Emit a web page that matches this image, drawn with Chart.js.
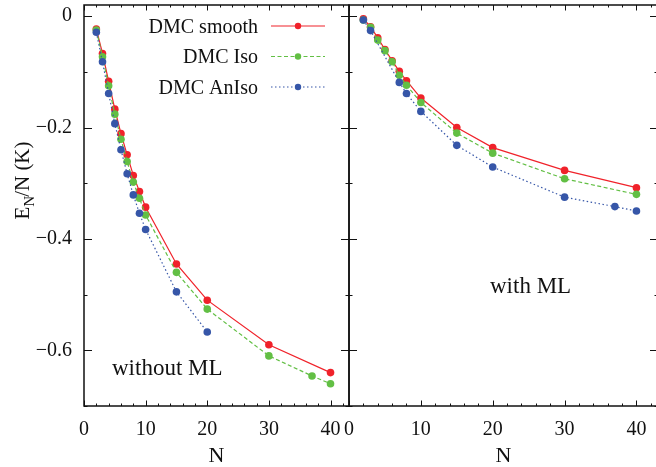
<!DOCTYPE html>
<html>
<head>
<meta charset="utf-8">
<script src="https://cdn.jsdelivr.net/npm/chart.js@4/dist/chart.umd.min.js"></script>
<style>
  html, body { margin: 0; padding: 0; background: #fff; width: 656px; height: 467px; overflow: hidden; }
  canvas { position: absolute; left: 0; top: 0; }
</style>
</head>
<body>
<canvas id="leftPanel" width="656" height="467"></canvas>
<canvas id="rightPanel" width="662" height="467"></canvas>
<script>
// Axis ticks
const xTicks = [0, 10, 20, 30, 40];
const yTicks = [0, -0.2, -0.4, -0.6];

// Series names
const seriesNames = ['DMC smooth', 'DMC Iso', 'DMC AnIso'];

// Panel: without ML
const nLeftSmooth = [2, 3, 4, 5, 6, 7, 8, 9, 10, 15, 20, 30, 40];
const eLeftSmooth = [-0.023, -0.067, -0.117, -0.167, -0.211, -0.249, -0.286, -0.315, -0.343, -0.445, -0.510, -0.590, -0.640];
const nLeftIso = [2, 3, 4, 5, 6, 7, 8, 9, 10, 15, 20, 30, 37, 40];
const eLeftIso = [-0.025, -0.073, -0.125, -0.176, -0.221, -0.261, -0.298, -0.327, -0.357, -0.460, -0.526, -0.610, -0.646, -0.660];
const nLeftAniso = [2, 3, 4, 5, 6, 7, 8, 9, 10, 15, 20];
const eLeftAniso = [-0.029, -0.082, -0.139, -0.193, -0.240, -0.283, -0.321, -0.354, -0.383, -0.495, -0.567];

// Panel: with ML
const nRightSmooth = [2, 3, 4, 5, 6, 7, 8, 10, 15, 20, 30, 40];
const eRightSmooth = [-0.005, -0.019, -0.039, -0.060, -0.080, -0.099, -0.116, -0.147, -0.200, -0.236, -0.277, -0.308];
const nRightIso = [2, 3, 4, 5, 6, 7, 8, 10, 15, 20, 30, 40];
const eRightIso = [-0.007, -0.020, -0.043, -0.062, -0.082, -0.106, -0.124, -0.155, -0.210, -0.246, -0.292, -0.320];
const nRightAniso = [2, 3, 7, 8, 10, 15, 20, 30, 37, 40];
const eRightAniso = [-0.007, -0.026, -0.119, -0.139, -0.171, -0.232, -0.271, -0.325, -0.342, -0.350];

const SERIF = "'Liberation Serif', 'Times New Roman', serif";
const COLORS = ['#f0222a', '#62bf44', '#3656a8'];
const DASHES = [[], [4, 2.5], [1.5, 2.5]];

function pairs(xs, ys) { return xs.map((x, i) => ({ x: x, y: ys[i] })); }

function makeDatasets(groups) {
  return groups.map((g, i) => ({
    label: seriesNames[i],
    data: pairs(g[0], g[1]),
    showLine: true,
    borderColor: COLORS[i],
    backgroundColor: COLORS[i],
    borderWidth: 1.2,
    borderDash: DASHES[i],
    pointRadius: 3.8,
    pointBorderWidth: 0,
    pointBackgroundColor: COLORS[i],
    order: 3 - i
  }));
}

// Frame with inward ticks on all four sides, gnuplot style
const frameTicks = {
  id: 'frameTicks',
  afterDraw(chart) {
    const ctx = chart.ctx;
    const a = chart.chartArea;
    const xs = chart.scales.x, ys = chart.scales.y;
    ctx.save();
    ctx.strokeStyle = '#111';
    ctx.lineWidth = 1;
    ctx.setLineDash([]);
    ctx.beginPath();
    for (let v = 0; v <= xs.max + 1e-9; v += 2) {
      const major = xTicks.includes(v);
      const len = major ? 5.5 : 2.5;
      const px = Math.round(xs.getPixelForValue(v)) + 0.5;
      ctx.moveTo(px, a.bottom); ctx.lineTo(px, a.bottom - len);
      ctx.moveTo(px, a.top); ctx.lineTo(px, a.top + len);
    }
    for (let k = 0; k <= 7; k++) {
      const v = -k / 10;
      const major = k % 2 === 0;
      const len = major ? 8 : 3.5;
      const py = Math.round(ys.getPixelForValue(v)) + 0.5;
      ctx.moveTo(a.left, py); ctx.lineTo(a.left + len, py);
      ctx.moveTo(a.right, py); ctx.lineTo(a.right - len, py);
    }
    ctx.stroke();
    ctx.lineWidth = 1.5;
    ctx.strokeStyle = '#111';
    ctx.strokeRect(a.left, a.top, a.right - a.left, a.bottom - a.top);
    ctx.restore();
  }
};

// Legend, panel caption and y axis title
const decorations = {
  id: 'decorations',
  afterDraw(chart, args, opts) {
    const ctx = chart.ctx;
    ctx.save();
    ctx.fillStyle = '#111';
    if (opts.caption) {
      ctx.font = '23px ' + SERIF;
      ctx.textAlign = 'left';
      ctx.textBaseline = 'alphabetic';
      ctx.fillText(opts.caption.text, opts.caption.x, opts.caption.y);
    }
    if (opts.legend) {
      const L = opts.legend;
      chart.data.datasets.forEach((ds, i) => {
        const y = L.y + i * L.step;
        ctx.font = '20px ' + SERIF;
        ctx.textAlign = 'right';
        ctx.textBaseline = 'alphabetic';
        ctx.fillStyle = '#111';
        ctx.fillText(ds.label, L.textRight, y + 6.5);
        ctx.strokeStyle = ds.borderColor;
        ctx.lineWidth = ds.borderWidth;
        ctx.setLineDash(ds.borderDash);
        ctx.beginPath();
        ctx.moveTo(L.lineLeft, y); ctx.lineTo(L.lineRight, y);
        ctx.stroke();
        ctx.setLineDash([]);
        ctx.fillStyle = ds.borderColor;
        ctx.beginPath();
        ctx.arc((L.lineLeft + L.lineRight) / 2, y, 3.2, 0, Math.PI * 2);
        ctx.fill();
      });
    }
    if (opts.yTitle) {
      const T = opts.yTitle;
      ctx.fillStyle = '#111';
      ctx.translate(T.x, T.y);
      ctx.rotate(-Math.PI / 2);
      ctx.textBaseline = 'alphabetic';
      ctx.textAlign = 'left';
      ctx.font = '21px ' + SERIF;
      const wE = ctx.measureText('E').width;
      ctx.font = '15px ' + SERIF;
      const wN = ctx.measureText('N').width;
      ctx.font = '21px ' + SERIF;
      const wRest = ctx.measureText('/N (K)').width;
      let x = -(wE + wN + wRest) / 2;
      ctx.fillText('E', x, 0); x += wE;
      ctx.font = '15px ' + SERIF;
      ctx.fillText('N', x, 5); x += wN - 1;
      ctx.font = '21px ' + SERIF;
      ctx.fillText('/N (K)', x, 0);
    }
    ctx.restore();
  }
};

function tickLabel(v) {
  if (Math.abs(v) < 1e-9) return '0';
  return (v < 0 ? '\u2212' : '') + Math.abs(v).toFixed(1);
}

function makeOptions(isLeft) {
  return {
    responsive: false,
    animation: false,
    events: [],
    layout: { padding: isLeft ? { top: 5, right: 307, left: 0, bottom: 0 } : { top: 5, right: 2, left: 0, bottom: 0 } },
    plugins: {
      legend: { display: false },
      tooltip: { enabled: false },
      decorations: isLeft ? {
        legend: { y: 26, step: 30.5, textRight: 258, lineLeft: 271, lineRight: 325 },
        caption: { text: 'without ML', x: 112, y: 375 },
        yTitle: { x: 29, y: 180 }
      } : {
        caption: { text: 'with ML', x: 490, y: 293 }
      }
    },
    scales: {
      x: {
        type: 'linear',
        min: 0, max: 43,
        afterBuildTicks: s => { s.ticks = xTicks.map(v => ({ value: v })); },
        afterFit: s => { s.height = 61; s.paddingLeft = 0; s.paddingRight = 0; },
        grid: { display: false, drawTicks: false },
        border: { display: false },
        ticks: { color: '#111', padding: 12, font: { family: SERIF, size: 20, lineHeight: 1.2 }, maxRotation: 0, callback: v => String(v) },
        title: { display: true, text: 'N', color: '#111', padding: 0, font: { family: SERIF, size: 22, lineHeight: 1 } }
      },
      y: {
        type: 'linear',
        min: -0.7, max: 0.02,
        afterBuildTicks: s => { s.ticks = yTicks.map(v => ({ value: v })); },
        afterFit: s => { s.width = isLeft ? 84 : 349; s.paddingTop = 0; s.paddingBottom = 0; },
        grid: { display: false, drawTicks: false },
        border: { display: false },
        ticks: { display: isLeft, color: '#111', padding: 12, font: { family: SERIF, size: 20 }, callback: v => tickLabel(v) }
      }
    }
  };
}

new Chart(document.getElementById('leftPanel'), {
  type: 'scatter',
  data: { datasets: makeDatasets([[nLeftSmooth, eLeftSmooth], [nLeftIso, eLeftIso], [nLeftAniso, eLeftAniso]]) },
  options: makeOptions(true),
  plugins: [frameTicks, decorations]
});

new Chart(document.getElementById('rightPanel'), {
  type: 'scatter',
  data: { datasets: makeDatasets([[nRightSmooth, eRightSmooth], [nRightIso, eRightIso], [nRightAniso, eRightAniso]]) },
  options: makeOptions(false),
  plugins: [frameTicks, decorations]
});
</script>
</body>
</html>
